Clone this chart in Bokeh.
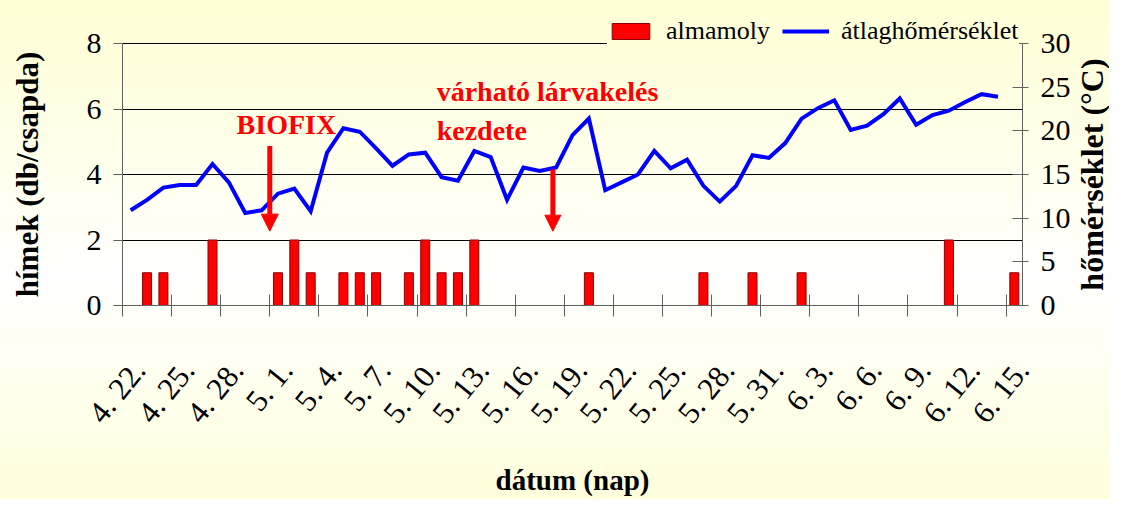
import math
from bokeh.plotting import figure
from bokeh.layouts import row
from bokeh.core.properties import value
from bokeh.models import (Range1d, LinearAxis, FixedTicker, Legend, LegendItem,
                          Arrow, NormalHead, Label, ColumnDataSource)
from bokeh.embed import file_html
from bokeh.resources import INLINE

# ---- data -------------------------------------------------------------
dates = ["4. 22.", "4. 23.", "4. 24.", "4. 25.", "4. 26.", "4. 27.", "4. 28.", "4. 29.", "4. 30.",
         "5. 1.", "5. 2.", "5. 3.", "5. 4.", "5. 5.", "5. 6.", "5. 7.", "5. 8.", "5. 9.", "5. 10.",
         "5. 11.", "5. 12.", "5. 13.", "5. 14.", "5. 15.", "5. 16.", "5. 17.", "5. 18.", "5. 19.",
         "5. 20.", "5. 21.", "5. 22.", "5. 23.", "5. 24.", "5. 25.", "5. 26.", "5. 27.", "5. 28.",
         "5. 29.", "5. 30.", "5. 31.", "6. 1.", "6. 2.", "6. 3.", "6. 4.", "6. 5.", "6. 6.", "6. 7.",
         "6. 8.", "6. 9.", "6. 10.", "6. 11.", "6. 12.", "6. 13.", "6. 14.", "6. 15."]

# almamoly (males per trap)
almamoly = [0, 1, 1, 0, 0, 2, 0, 0, 0,
            1, 2, 1, 0, 1, 1, 1, 0, 1, 2,
            1, 1, 2, 0, 0, 0, 0, 0, 0,
            1, 0, 0, 0, 0, 0, 0, 1, 0,
            0, 1, 0, 0, 1, 0, 0, 0, 0, 0,
            0, 0, 0, 2, 0, 0, 0, 1]

# average temperature (°C)
atlaghomerseklet = [10.9, 12.1, 13.5, 13.8, 13.8, 16.2, 14.1, 10.6, 10.9,
                    12.8, 13.4, 10.8, 17.5, 20.3, 19.9, 18.0, 16.0, 17.3, 17.5,
                    14.7, 14.3, 17.7, 17.0, 12.1, 15.8, 15.4, 15.8, 19.5,
                    21.4, 13.2, 14.1, 15.0, 17.7, 15.7, 16.7, 13.7, 11.9,
                    13.7, 17.2, 16.9, 18.6, 21.4, 22.6, 23.5, 20.1, 20.6, 21.9,
                    23.7, 20.7, 21.8, 22.3, 23.3, 24.2, 23.9, float("nan")]

left_ticks = [0, 2, 4, 6, 8]
right_ticks = [0, 5, 10, 15, 20, 25, 30]
label_step = 3

left_title = "hímek (db/csapda)"
right_title = "hőmérséklet (°C)"
x_title = "dátum (nap)"

FONT = "Liberation Serif"
AX = "#606060"
RED = "#FF0000"
BG = "linear-gradient(to bottom, #FFFFD4 0%, #FFFFF2 40%, #FFFFFF 55%, #FFFFDC 100%)"

# ---- layout (pixels) --------------------------------------------------
n = len(dates)
FRAME_W = 900
VALUE_H = 262          # height of the 0..8 value area
HEAD_H = 33            # extra room above the value area for the legend
FRAME_H = VALUE_H + HEAD_H
TOP = 10
BOTTOM = 194
scale_up = FRAME_H / VALUE_H

p = figure(frame_width=FRAME_W, frame_height=FRAME_H,
           min_border_left=68, min_border_right=51,
           min_border_top=TOP, min_border_bottom=BOTTOM,
           x_range=Range1d(-0.5, n - 0.5),
           y_range=Range1d(left_ticks[0], left_ticks[-1] * scale_up),
           output_backend="svg", toolbar_location=None,
           border_fill_color=None, background_fill_color=None,
           outline_line_color=None)
p.styles = {"background-image": BG}

p.extra_y_ranges = {"temp": Range1d(right_ticks[0], right_ticks[-1] * scale_up)}

# bars
bx = [i for i, v in enumerate(almamoly) if v > 0]
bv = [almamoly[i] for i in bx]
bar_src = ColumnDataSource(dict(x=bx, top=bv))
bars = p.vbar(x="x", top="top", width=0.55, bottom=0, source=bar_src,
              fill_color=RED, line_color="#8B0000", line_width=1)

# line
line_src = ColumnDataSource(dict(x=list(range(n)), t=atlaghomerseklet))
line = p.line(x="x", y="t", source=line_src, y_range_name="temp",
              line_color="#0000FF", line_width=4, line_join="miter")

# grid
p.xgrid.visible = False
p.ygrid.ticker = FixedTicker(ticks=left_ticks)
p.ygrid.grid_line_color = "black"
p.ygrid.grid_line_width = 1

# left axis
yl = p.yaxis[0]
yl.ticker = FixedTicker(ticks=left_ticks)
yl.bounds = (left_ticks[0], left_ticks[-1])
yl.axis_line_color = AX
yl.major_tick_line_color = AX
yl.major_tick_in = 0
yl.major_tick_out = 9
yl.minor_tick_line_color = None
yl.major_label_text_font = FONT
yl.major_label_text_font_size = "30px"
yl.major_label_text_color = "black"
yl.major_label_standoff = 12

# right axis
yr = LinearAxis(y_range_name="temp", ticker=FixedTicker(ticks=right_ticks),
                bounds=(right_ticks[0], right_ticks[-1]))
yr.axis_line_color = AX
yr.major_tick_line_color = AX
yr.major_tick_in = 10
yr.major_tick_out = 6
yr.minor_tick_line_color = None
yr.major_label_text_font = FONT
yr.major_label_text_font_size = "30px"
yr.major_label_text_color = "black"
yr.major_label_standoff = 12
p.add_layout(yr, "right")

# bottom axis: tick marks at category boundaries
tick_marks = [i - 0.5 for i in range(0, n, label_step)]
xb = p.xaxis[0]
xb.ticker = FixedTicker(ticks=tick_marks)
xb.major_label_overrides = {t: "" for t in tick_marks}
xb.axis_line_color = AX
xb.major_tick_line_color = AX
xb.major_tick_in = 11
xb.major_tick_out = 11
xb.minor_tick_line_color = None
xb.major_label_text_font_size = "1px"
xb.major_label_standoff = 0

# bottom label axis: slanted date labels, their upper end just right of each category
lab_idx = list(range(0, n, label_step))
lab_pos = [i + 0.5 for i in lab_idx]
xl = LinearAxis(ticker=FixedTicker(ticks=lab_pos),
                major_label_overrides={pos: dates[i] for pos, i in zip(lab_pos, lab_idx)})
xl.axis_line_color = None
xl.major_tick_line_color = None
xl.minor_tick_line_color = None
xl.major_tick_out = 0
xl.major_tick_in = 0
xl.major_label_orientation = 0.89
xl.major_label_text_font = FONT
xl.major_label_text_font_size = "31px"
xl.major_label_text_color = "black"
xl.major_label_standoff = 48
xl.axis_label = x_title
xl.axis_label_text_font = FONT
xl.axis_label_text_font_style = "bold"
xl.axis_label_text_font_size = "29px"
xl.axis_label_text_color = "black"
xl.axis_label_standoff = 20
p.add_layout(xl, "below")

# legend at the top, covering the top grid line
legend = Legend(items=[LegendItem(label="almamoly", renderers=[bars]),
                       LegendItem(label="átlaghőmérséklet", renderers=[line])],
                orientation="horizontal", location=(485, FRAME_H - 36),
                glyph_width=47, glyph_height=20, label_standoff=12, spacing=12,
                padding=2, margin=0,
                label_text_font=FONT, label_text_font_size="26px",
                label_text_color="black",
                background_fill_color="#FFFFDA", background_fill_alpha=1.0,
                border_line_color=None)
p.add_layout(legend, "center")

# annotations
p.add_layout(Arrow(end=NormalHead(size=17, fill_color=RED, line_color=RED),
                   x_start=8.5, y_start=4.87, x_end=8.5, y_end=2.27,
                   line_color=RED, line_width=5))
p.add_layout(Arrow(end=NormalHead(size=16, fill_color=RED, line_color=RED),
                   x_start=25.8, y_start=4.15, x_end=25.8, y_end=2.27,
                   line_color=RED, line_width=5))
for txt, xx, yy in [("BIOFIX", 6.47, 5.04),
                    ("várható lárvakelés", 18.7, 6.06),
                    ("kezdete", 18.7, 4.87)]:
    p.add_layout(Label(x=xx, y=yy, text=txt, text_color=RED, text_font=FONT,
                       text_font_style="bold", text_font_size="28px"))


# ---- side strips carrying the vertical axis titles (bottom-to-top) -----
def title_strip(width, y_range, y_mid, text, size):
    f = figure(frame_width=width, frame_height=FRAME_H,
               min_border_left=0, min_border_right=0,
               min_border_top=TOP, min_border_bottom=BOTTOM,
               x_range=Range1d(0, 1), y_range=y_range,
               x_axis_type=None, y_axis_type=None,
               output_backend="svg", toolbar_location=None,
               border_fill_color=None, background_fill_color=None,
               outline_line_color=None)
    f.styles = {"background-image": BG}
    f.text(x=[0.5], y=[y_mid], text=[text], angle=math.pi / 2,
           text_align="center", text_baseline="middle",
           text_font=value(FONT), text_font_style="bold",
           text_font_size=size, text_color="black")
    return f


left_strip = title_strip(54, p.y_range, (left_ticks[0] + left_ticks[-1]) / 2,
                         left_title, "31px")
right_strip = title_strip(36, p.extra_y_ranges["temp"], (right_ticks[0] + right_ticks[-1]) / 2,
                          right_title, "32px")

layout = row(left_strip, p, right_strip, spacing=0)
open("out.html", "w").write(file_html(layout, INLINE))
